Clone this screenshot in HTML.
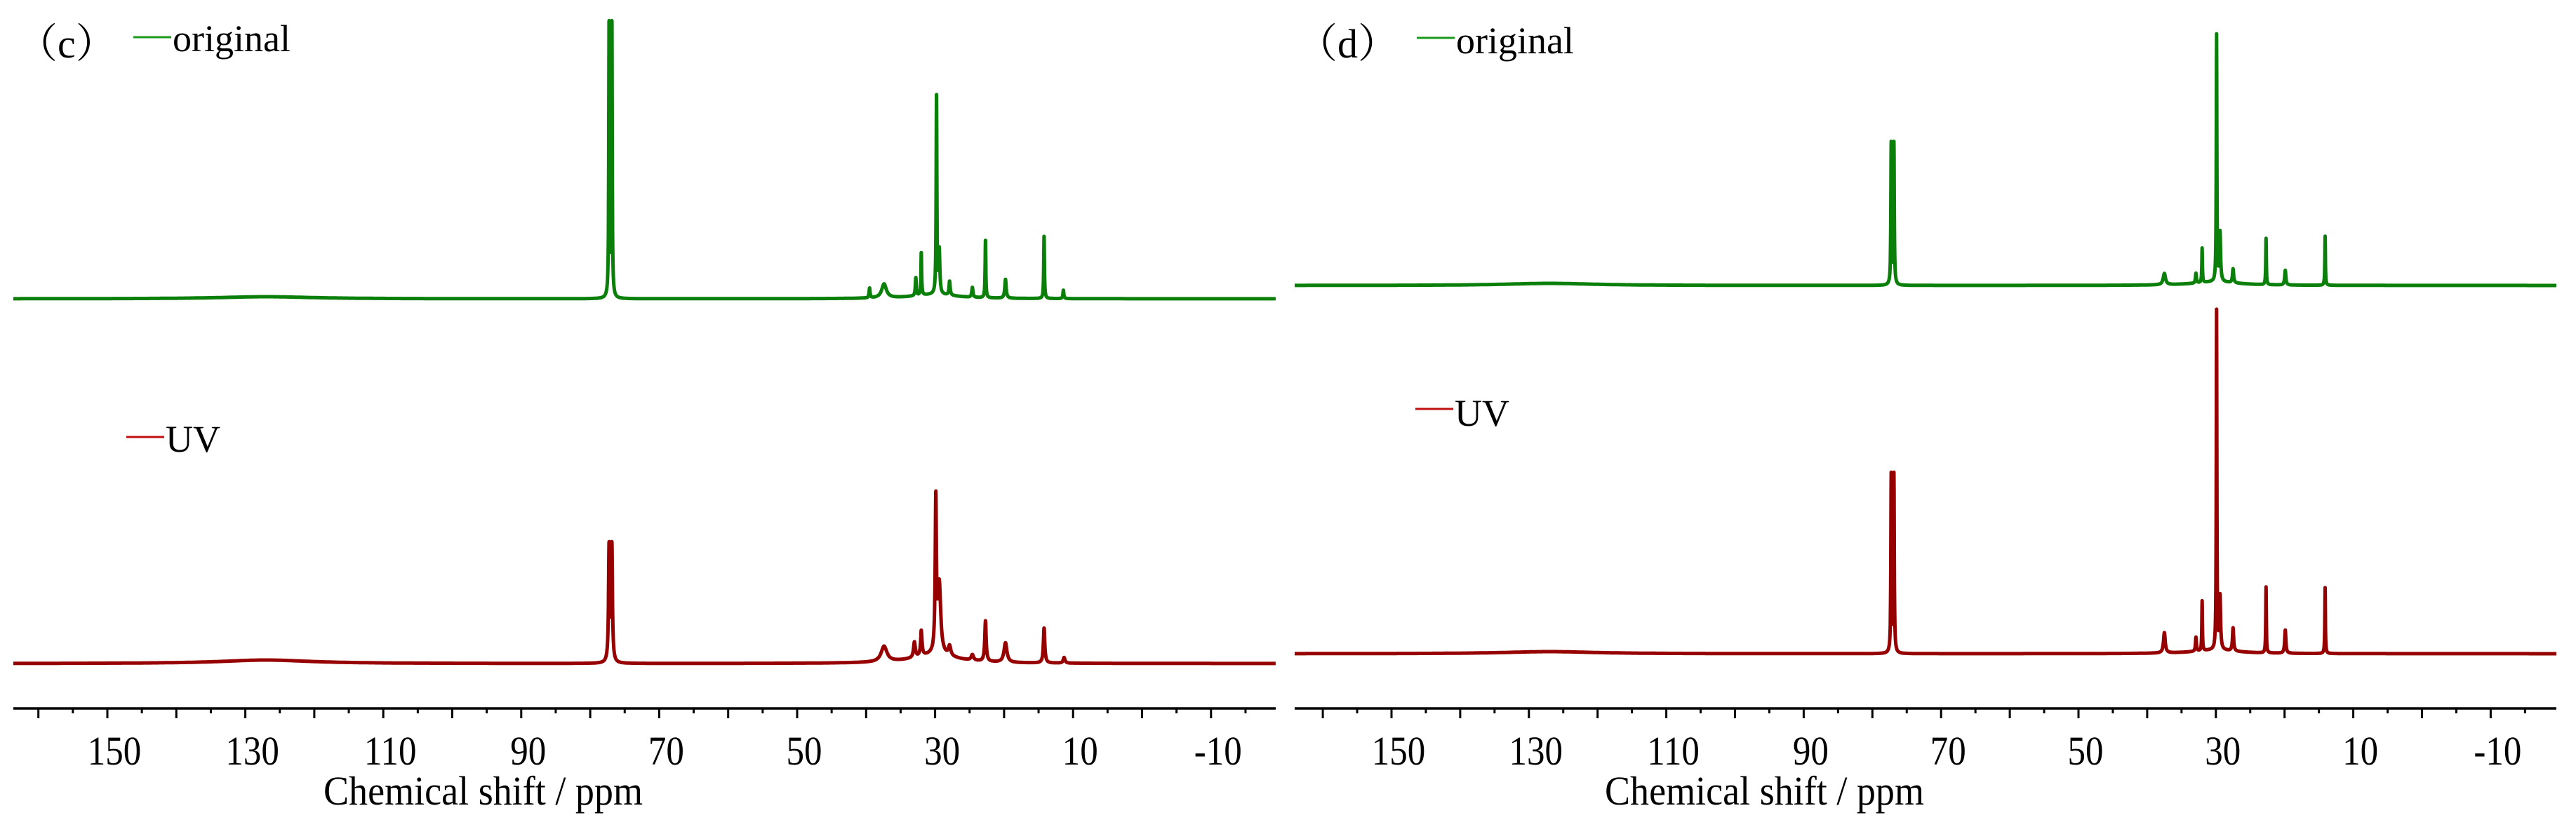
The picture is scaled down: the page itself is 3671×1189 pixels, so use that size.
<!DOCTYPE html>
<html><head><meta charset="utf-8"><style>
html,body{margin:0;padding:0;background:#fff;}
svg{display:block;}
text{font-family:"Liberation Serif","Noto Serif CJK SC",serif;fill:#000;}
</style></head><body>
<svg id="chart" width="3671" height="1189" viewBox="0 0 3671 1189" xmlns="http://www.w3.org/2000/svg">
<g id="panelC"></g>
<g id="panelD"></g>
</svg>
<script>
// tick labels
const tickLabels = [150, 130, 110, 90, 70, 50, 30, 10, -10];
// Peak lists: centres (ppm), heights (intensity above baseline), half-widths (ppm)
const cGreenPpm    = [77.26, 76.86, 39.5, 37.4, 32.8, 32.0, 29.8, 29.4, 27.9, 24.6, 22.7, 19.8, 14.2, 11.4, 127.0, 30.0];
const cGreenHeight = [398, 398, 14, 20, 26, 62, 289, 62, 20, 14, 84, 27, 91, 12, 3, 6];
const cGreenWidth  = [0.06, 0.06, 0.08, 0.4, 0.08, 0.06, 0.06, 0.1, 0.1, 0.1, 0.06, 0.12, 0.06, 0.08, 8, 4];
const cRedPpm      = [77.26, 76.86, 37.4, 33.0, 32.0, 29.9, 29.4, 27.9, 24.6, 22.7, 19.8, 14.2, 11.3, 127.0, 30.0];
const cRedHeight   = [165, 165, 22, 22, 36, 215, 100, 14, 8, 58, 28, 50, 8, 5, 12];
const cRedWidth    = [0.1, 0.1, 0.5, 0.15, 0.12, 0.1, 0.25, 0.2, 0.2, 0.12, 0.25, 0.12, 0.15, 8, 4];
const dGreenPpm    = [77.26, 76.86, 37.5, 32.9, 32.0, 29.9, 29.4, 27.5, 22.7, 19.9, 14.1, 127.0, 30.0];
const dGreenHeight = [201, 201, 16, 14, 49, 351, 70, 20, 66, 21, 70, 3, 5];
const dGreenWidth  = [0.06, 0.06, 0.2, 0.08, 0.05, 0.05, 0.1, 0.1, 0.05, 0.1, 0.05, 8, 4];
const dRedPpm      = [77.26, 76.86, 37.5, 32.9, 32.0, 29.9, 29.4, 27.5, 22.7, 19.9, 14.1, 127.0, 30.0];
const dRedHeight   = [253, 253, 29, 20, 71, 483, 76, 33, 94, 33, 94, 3, 5];
const dRedWidth    = [0.06, 0.06, 0.15, 0.08, 0.05, 0.05, 0.1, 0.1, 0.05, 0.1, 0.05, 8, 4];

const NS = 'http://www.w3.org/2000/svg';
function mk(tag, attrs, parent) {
  const e = document.createElementNS(NS, tag);
  for (const k in attrs) e.setAttribute(k, attrs[k]);
  parent.appendChild(e);
  return e;
}

function drawPanel(g, o) {
  const xs = p => o.x150 + (150 - p) * o.ppx;
  const ax = mk('line', {x1: o.axL, x2: o.axR, y1: 1010, y2: 1010, stroke: '#000', 'stroke-width': 3.5}, g);
  
  
  const pMax = 150 + (o.x150 - o.axL) / o.ppx, pMin = 150 - (o.axR - o.x150) / o.ppx;
  for (let p = 160; p >= pMin; p -= 5) {
    if (p > pMax) continue;
    const major = (p % 10 === 0);
    const t = mk('line', {x1: xs(p), x2: xs(p), y1: 1010, y2: major ? 1024 : 1017, stroke: '#000', 'stroke-width': 3}, g);
    
    
  }
  tickLabels.forEach(v => {
    const cx = xs(v) + 10;
    const t = mk('text', {x: 0, y: 0, 'font-size': 58, 'text-anchor': 'middle', transform: 'translate(' + cx + ',1090) scale(0.88,1)'}, g);
    t.textContent = String(v);
    
    
  });
  const tt = mk('text', {x: o.axL + 442, y: 1147, 'font-size': 58, textLength: 455, lengthAdjust: 'spacingAndGlyphs'}, g);
  tt.textContent = 'Chemical shift  / ppm';
  
  

  o.series.forEach(s => {
    let d = '';
    for (let i = Math.round(pMax * 100); i >= Math.round(pMin * 100); i -= 2) {
      const p = i / 100;
      let v = 0;
      for (let k = 0; k < s.ppm.length; k++) {
        const dx = (p - s.ppm[k]) / s.w[k];
        v += s.h[k] / (1 + dx * dx);
      }
      d += (d ? 'L' : 'M') + xs(p).toFixed(1) + ',' + (s.base - v).toFixed(1);
    }
    const path = mk('path', {d: d, fill: 'none', stroke: s.color, 'stroke-width': 5, 'stroke-linejoin': 'round'}, g);
    
    
  });

  const pl = mk('text', {x: o.labX, y: o.labY, 'font-size': 58}, g);
  pl.textContent = o.label;
  
  
  o.legends.forEach(L => {
    const ln = mk('line', {x1: L.x, x2: L.x + 54, y1: L.y, y2: L.y, stroke: L.color, 'stroke-width': 3}, g);
    
    
    const lt = mk('text', {x: L.x + 56, y: L.ty, 'font-size': 54}, g);
    lt.textContent = L.text;
    
    
  });
}

drawPanel(document.getElementById('panelC'), {
  x150: 153, ppx: 9.83, axL: 19, axR: 1818,
  label: '（c）', labX: 24, labY: 82,
  series: [
    {name: 'original-spectrum', color: '#0a7f0a', base: 426, ppm: cGreenPpm, h: cGreenHeight, w: cGreenWidth},
    {name: 'uv-spectrum', color: '#960000', base: 946, ppm: cRedPpm, h: cRedHeight, w: cRedWidth}
  ],
  legends: [
    {x: 190, y: 53, ty: 73, color: '#1a9a1a', text: 'original'},
    {x: 180, y: 623, ty: 644, color: '#c01010', text: 'UV'}
  ]
});
drawPanel(document.getElementById('panelD'), {
  x150: 1983, ppx: 9.79, axL: 1845, axR: 3643,
  label: '（d）', labX: 1848, labY: 82,
  series: [
    {name: 'original-spectrum', color: '#0a7f0a', base: 407, ppm: dGreenPpm, h: dGreenHeight, w: dGreenWidth},
    {name: 'uv-spectrum', color: '#960000', base: 932, ppm: dRedPpm, h: dRedHeight, w: dRedWidth}
  ],
  legends: [
    {x: 2019, y: 54, ty: 76, color: '#1a9a1a', text: 'original'},
    {x: 2017, y: 583, ty: 607, color: '#c01010', text: 'UV'}
  ]
});
</script>
</body></html>
